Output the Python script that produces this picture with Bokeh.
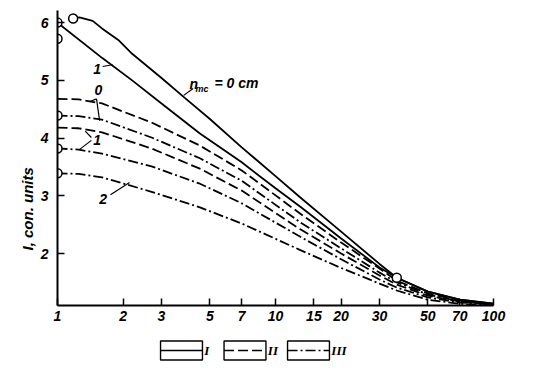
from bokeh.plotting import figure
from bokeh.models import Range1d, FixedTicker, NumeralTickFormatter, Label, Title
from bokeh.layouts import column
from bokeh.embed import file_html
from bokeh.resources import INLINE

# ---------------- data ----------------
x_ticks = [1, 2, 3, 5, 7, 10, 15, 20, 30, 50, 70, 100]
y_ticks = [2, 3, 4, 5, 6]

# solid (I), n_mc = 0 cm
xA = [1.18, 1.26, 1.45, 1.6, 1.9, 2.2, 3, 3.8, 5, 7, 10, 13, 20, 30, 36, 50, 70, 100]
yA = [6.07, 6.09, 6.03, 5.90, 5.70, 5.46, 5.04, 4.71, 4.33, 3.84, 3.34, 2.97, 2.38, 1.82, 1.58, 1.34, 1.20, 1.13]
# solid (I), n_mc = 1 cm
xB = [1, 1.6, 2.2, 3, 4.5, 7, 10, 13, 20, 30, 36, 50, 70, 100]
yB = [6.00, 5.39, 5.00, 4.60, 4.08, 3.58, 3.13, 2.81, 2.26, 1.76, 1.58, 1.34, 1.20, 1.13]

xs = [1, 1.25, 1.6, 2.7, 4.5, 7, 13, 20, 30, 36, 50, 70, 100]
# dashed (II), n_mc = 0
yC = [4.68, 4.67, 4.60, 4.27, 3.87, 3.44, 2.69, 2.19, 1.74, 1.53, 1.31, 1.19, 1.12]
# dash-dot (III), n_mc = 0
yD = [4.39, 4.38, 4.32, 4.01, 3.65, 3.26, 2.54, 2.09, 1.67, 1.50, 1.29, 1.17, 1.12]
# dashed (II), n_mc = 1
yE = [4.18, 4.17, 4.10, 3.82, 3.47, 3.09, 2.42, 2.00, 1.62, 1.46, 1.27, 1.17, 1.12]
# dash-dot (III), n_mc = 1
yF = [3.82, 3.80, 3.73, 3.51, 3.21, 2.87, 2.29, 1.90, 1.55, 1.41, 1.24, 1.15, 1.12]
# dash-dot (III), n_mc = 2
yG = [3.39, 3.38, 3.32, 3.07, 2.80, 2.52, 2.06, 1.75, 1.48, 1.36, 1.20, 1.13, 1.10]

# experimental points
pts_x = [1, 1.18, 1, 1, 1, 1, 36]
pts_y = [6.00, 6.07, 5.72, 4.39, 3.82, 3.39, 1.58]

legend_labels = ["I", "II", "III"]

DASH = "10 4"
DASHDOT = "10 3 2 3"
FONT = "Liberation Sans"

# ---------------- main plot ----------------
p = figure(width=534, height=333, x_axis_type="log",
           x_range=Range1d(1, 100), y_range=Range1d(1.10, 6.21),
           output_backend="svg", toolbar_location=None,
           min_border_left=57, min_border_right=41,
           min_border_top=10, min_border_bottom=28)
p.outline_line_color = None
p.grid.visible = False
p.background_fill_color = "white"

lw = 1.8
p.line(xA, yA, line_color="black", line_width=lw)
p.line(xB, yB, line_color="black", line_width=lw)
p.line(xs, yC, line_color="black", line_width=lw, line_dash=DASH)
p.line(xs, yD, line_color="black", line_width=lw, line_dash=DASHDOT)
p.line(xs, yE, line_color="black", line_width=lw, line_dash=DASH)
p.line(xs, yF, line_color="black", line_width=lw, line_dash=DASHDOT)
p.line(xs, yG, line_color="black", line_width=lw, line_dash=DASHDOT)
p.scatter(pts_x, pts_y, size=9, marker="circle", fill_color="white",
          line_color="black", line_width=1.5)

# axes
p.xaxis.ticker = FixedTicker(ticks=x_ticks, minor_ticks=[])
p.xaxis.formatter = NumeralTickFormatter(format="0")
p.yaxis.ticker = FixedTicker(ticks=y_ticks, minor_ticks=[])
for ax in (p.xaxis, p.yaxis):
    ax.axis_line_width = 2
    ax.axis_line_color = "black"
    ax.major_tick_in = 7
    ax.major_tick_out = 0
    ax.major_tick_line_width = 1.5
    ax.minor_tick_line_color = None
    ax.major_label_text_font = FONT
    ax.major_label_text_font_style = "bold italic"
    ax.major_label_text_font_size = "14px"
    ax.major_label_text_color = "black"
p.xaxis.major_label_standoff = 5
p.yaxis.major_label_standoff = 9

# y axis title, placed low along the axis as in the original
p.add_layout(Title(text="I, con. units", align="left", offset=55,
                   text_font=FONT, text_font_style="bold italic", text_font_size="15px",
                   text_color="black", standoff=4), "left")

# annotation leader lines
leaders = [
    ([4.19, 3.79], [4.86, 4.74]),      # n_mc = 0 cm
    ([1.61, 1.79], [5.24, 5.27]),      # 1 (solid)
    ([1.51, 1.40], [4.68, 4.63]),      # 0 -> dashed
    ([1.51, 1.56], [4.68, 4.30]),      # 0 -> dash-dot
    ([1.43, 1.34], [4.01, 4.12]),      # 1 -> dashed
    ([1.43, 1.26], [3.96, 3.80]),      # 1 -> dash-dot
    ([1.75, 2.14], [3.02, 3.23]),      # 2
]
for lx, ly in leaders:
    p.line(lx, ly, line_color="black", line_width=1.2)

def lab(x, y, t, size="14px", align="center"):
    p.add_layout(Label(x=x, y=y, text=t, text_font=FONT, text_font_style="bold italic",
                       text_font_size=size, text_baseline="middle", text_align=align,
                       text_color="black"))

lab(1.52, 5.20, "1")
lab(1.54, 4.84, "0")
lab(1.52, 3.97, "1")
lab(1.62, 2.95, "2")
lab(4.22, 4.94, "n", size="14px")
lab(4.6, 4.85, "mc", size="9px")
lab(5.25, 4.96, "= 0 cm", size="14px", align="left")
p.add_layout(Label(x=100, y=1.10, x_offset=10, y_offset=-8, text="Φ, %", text_font=FONT,
                   text_font_style="bold italic", text_font_size="14px",
                   text_baseline="middle", text_align="left", text_color="black"))

# ---------------- legend strip (frame aligned with the main plot frame) ----------------
leg = figure(width=534, height=33, x_range=Range1d(-124 / 63.5, (436 - 124) / 63.5),
             y_range=Range1d(0, 33), output_backend="svg", toolbar_location=None,
             x_axis_location=None, y_axis_location=None,
             min_border_left=57, min_border_right=41, min_border_top=0, min_border_bottom=0)
leg.grid.visible = False
leg.outline_line_color = None
dashes = ["solid", DASH, DASHDOT]
for i, (t, d) in enumerate(zip(legend_labels, dashes)):
    leg.rect(x=i, y=16, width=0.66, height=19, fill_color=None, line_color="black", line_width=1.4)
    leg.line([i - 0.33, i + 0.33], [16, 16], line_color="black", line_width=1.4, line_dash=d)
    leg.add_layout(Label(x=i + 0.36, y=16, text=t, text_font="Liberation Serif",
                         text_font_style="bold italic", text_font_size="13px",
                         text_baseline="middle", text_align="left", text_color="black"))

layout = column(p, leg, spacing=0)
open("out.html", "w").write(file_html(layout, INLINE))
